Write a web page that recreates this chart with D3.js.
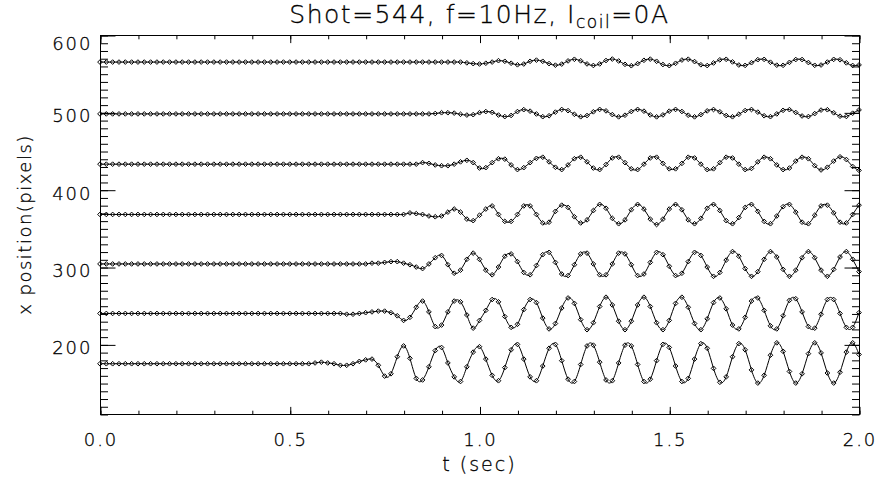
<!DOCTYPE html>
<html>
<head>
<meta charset="utf-8">
<script src="https://cdn.jsdelivr.net/npm/d3@7"></script>
<style>
  body { margin: 0; background: #fff; }
  svg text { font-family: "DejaVu Sans", sans-serif; font-weight: 200; fill: #000; stroke: #000; stroke-width: 0.3px; }
</style>
</head>
<body>
<svg id="chart" width="879" height="486"></svg>
<script>
// Sampling rate of the camera frames (frames per second)
const sampleRate = 60;

// Tracked x positions (pixels), one row per tracked point, bottom to top
const track1 = [
  175,175,175,175,175,175,175,175,175,175,175,175,175,175,175,175,175,175,175,175,
  175,175,175,175,175,175,175,175,175,175,175,175,175,175,176,177,176,175,173,173,
  175,178,180,181,173,159,162,184,198,182,156,154,171,192,196,176,158,152,171,190,
  197,181,160,153,170,193,200,181,158,153,172,195,200,179,155,152,174,198,199,177,
  154,153,176,199,198,174,152,155,179,200,196,172,152,156,181,201,195,169,151,158,
  184,201,193,167,150,160,186,202,191,165,150,162,188,202,189,163,150,164,190,202,
  187
];
const track2 = [
  240,240,240,240,240,240,240,240,240,240,240,240,240,240,240,240,240,240,240,240,
  240,240,240,240,240,240,240,240,240,240,240,240,240,240,240,240,240,240,240,239,
  239,240,241,242,243,243,241,237,231,235,248,256,242,223,225,242,256,255,238,221,
  231,244,258,255,236,222,226,245,258,254,234,220,227,247,260,253,232,219,228,249,
  261,251,230,219,230,251,261,249,228,219,231,253,261,248,227,219,233,254,260,246,
  225,220,235,256,260,244,224,220,237,257,259,242,223,221,239,258,258,240,222,222,
  241
];
const track3 = [
  304,304,304,304,304,304,304,304,304,304,304,304,304,304,304,304,304,304,304,304,
  304,304,304,304,304,304,304,304,304,304,304,304,304,304,304,304,304,304,304,304,
  304,304,304,305,305,306,307,307,305,303,300,298,304,312,315,303,292,296,310,318,
  310,296,290,300,314,317,307,293,290,302,316,319,306,291,289,303,317,318,304,290,
  290,304,318,317,303,289,291,306,319,316,301,289,292,307,319,315,300,288,293,309,
  320,314,298,288,294,310,320,313,297,288,296,312,320,312,296,288,297,313,320,310,
  294
];
const track4 = [
  368,368,368,368,368,368,368,368,368,368,368,368,368,368,368,368,368,368,368,368,
  368,368,368,368,368,368,368,368,368,368,368,368,368,368,368,368,368,368,368,368,
  368,368,368,368,368,368,368,368,368,370,369,368,366,365,366,371,375,371,362,360,
  367,375,379,368,359,359,368,379,379,368,357,358,372,380,377,365,357,361,373,381,
  376,363,356,361,374,381,375,362,355,362,375,381,374,361,356,363,376,381,373,360,
  356,364,377,381,372,359,356,366,378,381,371,358,356,367,379,380,370,358,357,368,
  380
];
const track5 = [
  433,433,433,433,433,433,433,433,433,433,433,433,433,433,433,433,433,433,433,433,
  433,433,433,433,433,433,433,433,433,433,433,433,433,433,433,433,433,433,433,433,
  433,433,433,433,433,433,433,433,433,433,433,435,434,432,431,431,433,436,438,435,
  428,428.5,435,440,439.5,432,426,428.5,435,440.5,442,436,429,426,432,440,442,436,428,426,
  432.5,441,442,435,427,426,433,441,442,434,427,427,434,442,441,433,426,427,435,442,
  441,433,426,427.5,436,442,440,432,426,428,437,442,440,431,425.5,429,437,442.5,439,430,
  425
];
const track6 = [
  498,498,498,498,498,498,498,498,498,498,498,498,498,498,498,498,498,498,498,498,
  498,498,498,498,498,498,498,498,498,498,498,498,498,498,498,498,498,498,498,498,
  498,498,498,498,498,498,498,498,498,498,498,498,498,498.5,499.5,499.5,499,497.5,496.5,497,
  499.5,501,500,496.5,494.5,496,501,503.5,501.5,497.9,494.4,495.6,500.3,503.7,502.2,497.5,494.3,495.9,500.7,503.8,
  501.9,497.1,494.2,496.3,501.1,503.8,501.5,496.7,494.2,496.7,501.5,503.8,501.1,496.3,494.2,497.1,501.9,503.7,500.7,495.9,
  494.3,497.5,502.3,503.7,500.3,495.6,494.4,498,502.6,503.5,499.8,495.3,494.6,498.4,502.9,503.4,499.4,495,494.7,498.9,
  503.1
];
const track7 = [
  565,565,565,565,565,565,565,565,565,565,565,565,565,565,565,565,565,565,565,565,
  565,565,565,565,565,565,565,565,565,565,565,565,565,565,565,565,565,565,565,565,
  565,565,565,565,565,565,565,565,565,565,565,565,565,565,565,565,565,565,564,563,
  562.5,563.5,565,566.8,566,563.5,561.5,562.5,566,567.5,566,563,561,562.4,566.5,568.6,566.6,562.6,560.6,562.6,
  567,568.9,566.4,562.1,560.3,563,567.3,568.8,566,561.8,560.4,563.4,567.6,568.7,565.6,561.5,560.5,563.8,567.9,568.6,
  565.2,561.2,560.7,564.2,568.1,568.5,564.8,561,560.8,564.6,568.3,568.3,564.4,560.8,561.2,565,568.5,568,564,560.6,
  561.3
];

const xTickValues = [0, 0.5, 1.0, 1.5, 2.0];
const xTickLabels = ["0.0", "0.5", "1.0", "1.5", "2.0"];
const yTickValues = [200, 300, 400, 500, 600];
const yTickLabels = ["200", "300", "400", "500", "600"];

const series = [track1, track2, track3, track4, track5, track6, track7];

const width = 879, height = 486;
const margin = { left: 100, right: 20, top: 35, bottom: 72 };
const plotW = width - margin.left - margin.right;
const plotH = height - margin.top - margin.bottom;

const svg = d3.select("#chart");

const x = d3.scaleLinear().domain([0, 2]).range([margin.left, margin.left + plotW]);
const y = d3.scaleLinear().domain([110, 600]).range([margin.top + plotH, margin.top]);

const xMajorLen = 7.6, xMinorLen = 3.8;
const yMajorLen = 15, yMinorLen = 7.5;

const g = svg.append("g").attr("transform", "translate(0.5,0.5)");

// Minor ticks on all four sides
const xMinor = x.ticks(20);
const yMinor = y.ticks(49);

g.append("g").attr("transform", `translate(0,${margin.top + plotH})`)
  .call(d3.axisBottom(x).tickValues(xMinor).tickSizeInner(-xMinorLen).tickSizeOuter(0).tickFormat(""))
  .call(a => a.select(".domain").remove());
g.append("g").attr("transform", `translate(0,${margin.top})`)
  .call(d3.axisTop(x).tickValues(xMinor).tickSizeInner(-xMinorLen).tickSizeOuter(0).tickFormat(""))
  .call(a => a.select(".domain").remove());
g.append("g").attr("transform", `translate(${margin.left},0)`)
  .call(d3.axisLeft(y).tickValues(yMinor).tickSizeInner(-yMinorLen).tickSizeOuter(0).tickFormat(""))
  .call(a => a.select(".domain").remove());
g.append("g").attr("transform", `translate(${margin.left + plotW},0)`)
  .call(d3.axisRight(y).tickValues(yMinor).tickSizeInner(-yMinorLen).tickSizeOuter(0).tickFormat(""))
  .call(a => a.select(".domain").remove());

// Major ticks with labels on bottom and left
const xAxis = g.append("g").attr("transform", `translate(0,${margin.top + plotH})`)
  .call(d3.axisBottom(x).tickValues(xTickValues).tickSizeInner(-xMajorLen).tickSizeOuter(0)
    .tickPadding(19).tickFormat((d, i) => xTickLabels[i]));
xAxis.select(".domain").remove();

g.append("g").attr("transform", `translate(0,${margin.top})`)
  .call(d3.axisTop(x).tickValues(xTickValues).tickSizeInner(-xMajorLen).tickSizeOuter(0).tickFormat(""))
  .call(a => a.select(".domain").remove());

const yAxis = g.append("g").attr("transform", `translate(${margin.left},0)`)
  .call(d3.axisLeft(y).tickValues(yTickValues).tickSizeInner(-yMajorLen).tickSizeOuter(0)
    .tickPadding(8).tickFormat((d, i) => yTickLabels[i]));
yAxis.select(".domain").remove();

g.append("g").attr("transform", `translate(${margin.left + plotW},0)`)
  .call(d3.axisRight(y).tickValues(yTickValues).tickSizeInner(-yMajorLen).tickSizeOuter(0).tickFormat(""))
  .call(a => a.select(".domain").remove());

g.selectAll(".tick line").attr("stroke", "#000").attr("stroke-width", 1);
g.selectAll(".tick text")
  .attr("font-family", "DejaVu Sans, sans-serif")
  .attr("font-size", 18)
  .attr("letter-spacing", 2)
  .attr("fill", "#000");
// labels sit a little below their ticks; the top one is kept inside the frame height
yAxis.selectAll(".tick text")
  .attr("dy", "0.42em")
  .attr("y", d => (d === y.domain()[1] ? 6 : 1.5));

// Plot frame
g.append("rect")
  .attr("x", margin.left).attr("y", margin.top)
  .attr("width", plotW).attr("height", plotH)
  .attr("fill", "none").attr("stroke", "#000").attr("stroke-width", 1);

// Traces: smooth line plus diamond markers
const line = d3.line()
  .x((d, i) => x(i / sampleRate))
  .y(d => y(d))
  .curve(d3.curveNatural);

const diamond = d3.symbol().type(d3.symbolDiamond2).size(14);

const traces = svg.append("g");
series.forEach(vals => {
  traces.append("path")
    .attr("d", line(vals))
    .attr("fill", "none")
    .attr("stroke", "#000")
    .attr("stroke-width", 1);
  traces.selectAll(null)
    .data(vals)
    .join("path")
    .attr("d", diamond)
    .attr("transform", (d, i) => `translate(${x(i / sampleRate)},${y(d)})`)
    .attr("fill", "none")
    .attr("stroke", "#000")
    .attr("stroke-width", 1);
});

// Title with subscript
const title = svg.append("text")
  .attr("x", margin.left + plotW / 2)
  .attr("y", 23)
  .attr("text-anchor", "middle")
  .attr("font-size", 25)
  .attr("letter-spacing", 1.5);
title.append("tspan").text("Shot=544, f=10Hz, I");
title.append("tspan").attr("font-size", 17).attr("dy", 5).text("coil");
title.append("tspan").attr("dy", -5).text("=0A");

// Axis titles
svg.append("text")
  .attr("x", margin.left + plotW / 2)
  .attr("y", 471)
  .attr("text-anchor", "middle")
  .attr("font-size", 19)
  .attr("letter-spacing", 2)
  .text("t (sec)");

svg.append("text")
  .attr("transform", `translate(31,${margin.top + plotH / 2}) rotate(-90)`)
  .attr("text-anchor", "middle")
  .attr("font-size", 18)
  .attr("letter-spacing", 1.5)
  .text("x position(pixels)");
</script>
</body>
</html>
